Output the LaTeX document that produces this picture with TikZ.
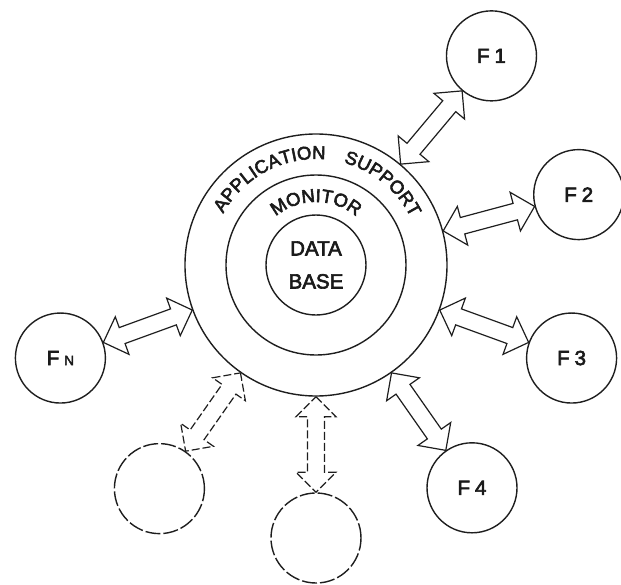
\documentclass[tikz,border=0pt]{standalone}
\usepackage{fontspec}
\setmainfont{Liberation Sans}[FakeBold=3]
\usetikzlibrary{calc, decorations.text}
\definecolor{inkline}{HTML}{1E1E1E}
\definecolor{inktext}{HTML}{1A1A1A}
\begin{document}
\begin{tikzpicture}[
  x=1pt, y=1pt,
  every node/.style={font=\fontsize{20.5}{33}\selectfont, text=inktext},
  ring/.style={circle, draw=inkline, line width=1.4pt, inner sep=0pt, minimum size=#1},
  funcbox/.style={circle, draw=inkline, line width=1.4pt, inner sep=0pt, minimum size=90pt},
  ghostbox/.style={funcbox, dash pattern=on 15pt off 3pt},
  link/.style={draw=inkline, line width=1.2pt, line join=miter},
  ghostlink/.style={link, dash pattern=on 8pt off 3pt},
  dblarrow/.style 2 args={insert path={(#1) -- ($(#1)!20pt!(#2)!20pt!90:(#2)$) -- ($(#1)!20pt!(#2)!8.5pt!90:(#2)$) -- ($(#2)!20pt!(#1)!8.5pt!90:(#2)$) -- ($(#2)!20pt!(#1)!20pt!90:(#2)$) -- (#2) -- ($(#2)!20pt!(#1)!20pt!-90:(#2)$) -- ($(#2)!20pt!(#1)!8.5pt!-90:(#2)$) -- ($(#1)!20pt!(#2)!8.5pt!-90:(#2)$) -- ($(#1)!20pt!(#2)!20pt!-90:(#2)$) -- cycle}},
]
\useasboundingbox (-316,-319) rectangle (305,265);

% nested rings
\node[ring=262pt] (appl) at (0,0) {};
\node[ring=180pt] (mon) at (0,0) {};
\node[ring=100pt, align=center] (base) at (0,0) {DATA\\BASE};

% ring labels
\path[decorate, decoration={text along path, text align=center, text={|\fontsize{18.5}{18}\selectfont\color{inktext}|APPLICATION}}] (165:106) arc[start angle=165, end angle=71, radius=106];
\path[decorate, decoration={text along path, text align=center, text={|\fontsize{18.5}{18}\selectfont\color{inktext}|SUPPORT}}] (85:106) arc[start angle=85, end angle=16.5, radius=106];
\path[decorate, decoration={text along path, text align=center, text={|\fontsize{18.5}{18}\selectfont\color{inktext}|MONITOR}}] (145:63) arc[start angle=145, end angle=35, radius=63];

% functions
\node[funcbox] (f1) at (50:273) {F\kern5pt 1};
\node[funcbox] (f2) at (15:272) {F\kern5pt 2};
\node[funcbox] (f3) at (-20:272) {F\kern5pt 3};
\node[funcbox] (f4) at (-55:272) {F\kern5pt 4};
\node[ghostbox] (fx) at (-90:273) {};
\node[ghostbox] (fy) at (-125:273) {};
\node[funcbox] (fn) at (-160:272) {F\kern5pt{\fontsize{13.5}{13}\selectfont N}};

% links
\draw[link, dblarrow={appl.50}{f1.230}];
\draw[link, dblarrow={appl.15}{f2.195}];
\draw[link, dblarrow={appl.-20}{f3.160}];
\draw[link, dblarrow={appl.-55}{f4.125}];
\draw[ghostlink, dblarrow={appl.-90}{fx.90}];
\draw[ghostlink, dblarrow={appl.-125}{fy.55}];
\draw[link, dblarrow={appl.-160}{fn.20}];

\end{tikzpicture}
\end{document}
